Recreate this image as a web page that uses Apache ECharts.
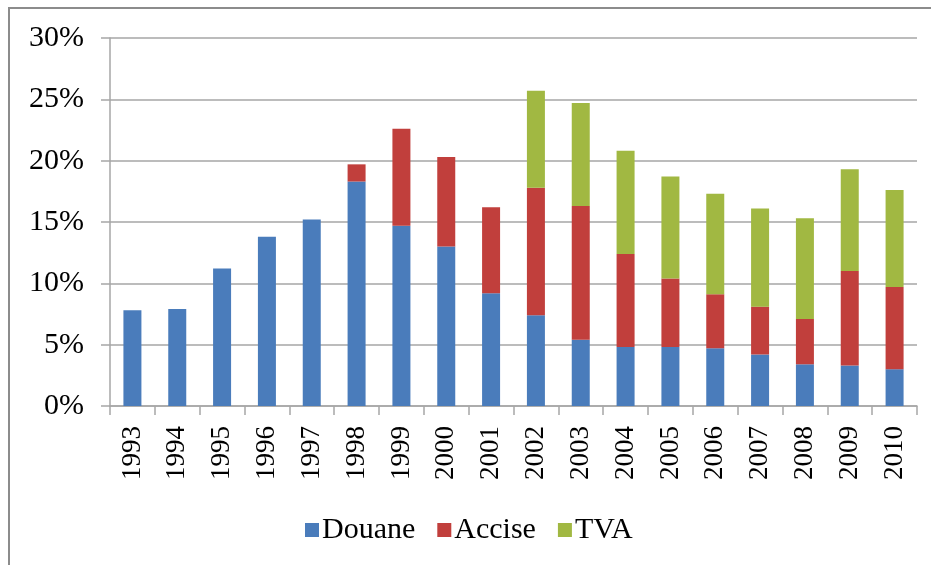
<!DOCTYPE html>
<html>
<head>
<meta charset="utf-8">
<script src="https://cdn.jsdelivr.net/npm/echarts@6/dist/echarts.min.js"></script>
<style>
  html, body { margin: 0; padding: 0; background: #fff; }
  #chart { width: 931px; height: 565px; }
</style>
</head>
<body>
<div id="chart"></div>
<script>
// années
const years = ['1993', '1994', '1995', '1996', '1997', '1998', '1999', '2000', '2001',
  '2002', '2003', '2004', '2005', '2006', '2007', '2008', '2009', '2010']
// taux en %
const douane = [7.8, 7.9, 11.2, 13.8, 15.2, 18.3, 14.7, 13.0, 9.2, 7.4, 5.4, 4.8, 4.8, 4.7, 4.2, 3.4, 3.3, 3.0]
const accise = [null, null, null, null, null, 1.4, 7.9, 7.3, 7.0, 10.4, 10.9, 7.6, 5.6, 4.4, 3.9, 3.7, 7.7, 6.7]
const tva = [null, null, null, null, null, null, null, null, null, 7.9, 8.4, 8.4, 8.3, 8.2, 8.0, 8.2, 8.3, 7.9]
const seriesNames = ['Douane', 'Accise', 'TVA']
const colors = ['#4a7cbb', '#c13f3c', '#a1b842']

const serif = 'Liberation Serif'
const gray = '#a6a6a6'

let chart = echarts.init(document.getElementById('chart'))

let option = {
  animation: false,
  color: colors,
  grid: { left: 110, right: 14, top: 38, bottom: 159 },
  // cadre + titre coupé en haut
  graphic: [
    {
      type: 'rect',
      shape: { x: 9, y: 8, width: 940, height: 600 },
      style: { fill: 'none', stroke: '#8c8c8c', lineWidth: 2 },
      silent: true
    },
    {
      type: 'text',
      left: 0,
      top: -18,
      style: {
        text: 'Graphique 4 : Taux de protection effective par année, (1993-2010), en %',
        font: '19px "Liberation Serif"',
        fill: '#000'
      },
      silent: true
    }
  ],
  legend: {
    data: seriesNames,
    left: 300,
    top: 510,
    icon: 'rect',
    itemWidth: 14,
    itemHeight: 14,
    itemGap: 22,
    textStyle: { fontFamily: serif, fontSize: 30, color: '#000', padding: [0, 0, 0, -2] }
  },
  xAxis: {
    type: 'category',
    data: years,
    axisLine: { lineStyle: { color: gray, width: 1.5 } },
    axisTick: { show: true, length: 9, lineStyle: { color: gray, width: 1.5 } },
    axisLabel: { rotate: 90, margin: 20, fontFamily: serif, fontSize: 27, color: '#000' }
  },
  yAxis: {
    type: 'value',
    min: 0,
    max: 30,
    interval: 5,
    axisLine: { show: true, lineStyle: { color: gray, width: 1.5 } },
    axisTick: { show: true, length: 9, lineStyle: { color: gray, width: 1.5 } },
    splitLine: { lineStyle: { color: gray, width: 1.5 } },
    axisLabel: { formatter: '{value}%', margin: 26, fontFamily: serif, fontSize: 30, color: '#000' }
  },
  series: [douane, accise, tva].map((d, i) => ({
    name: seriesNames[i],
    type: 'bar',
    stack: 'total',
    barWidth: 18,
    data: d
  }))
}

chart.setOption(option)
</script>
</body>
</html>
